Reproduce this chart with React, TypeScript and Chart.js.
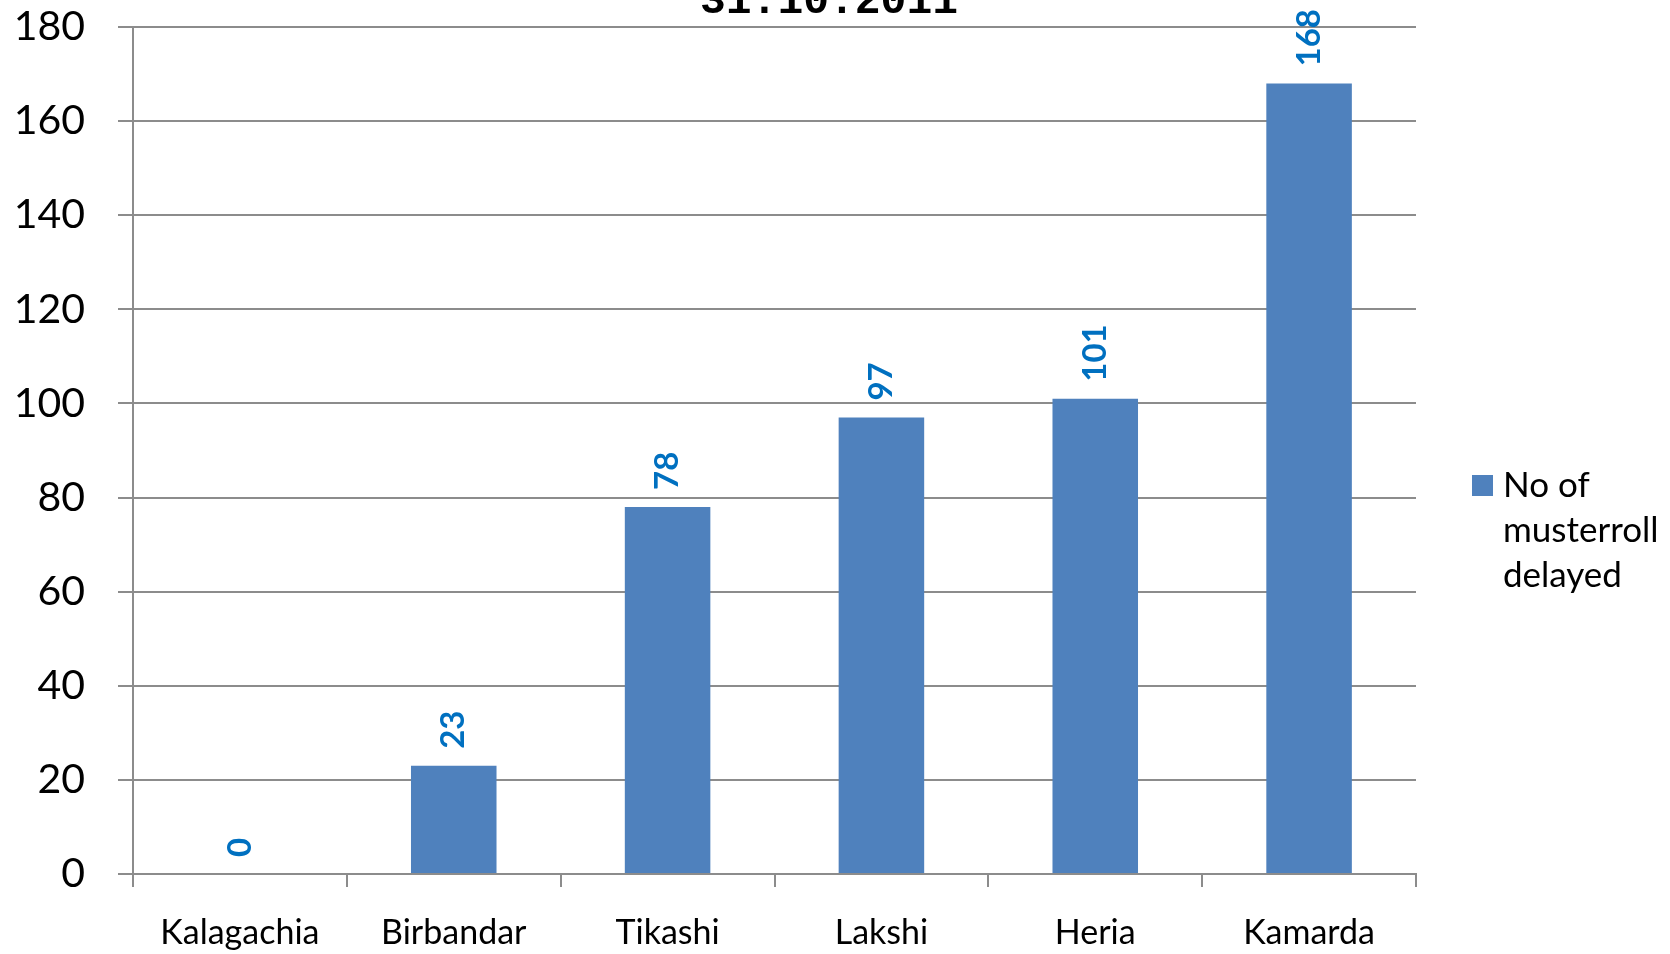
import React, { useEffect, useRef } from "react";
import { Chart, registerables } from "chart.js";

Chart.register(...registerables);

const categories = ["Kalagachia", "Birbandar", "Tikashi", "Lakshi", "Heria", "Kamarda"];
const delayed = [0, 23, 78, 97, 101, 168];
const seriesLabel = "No of musterroll delayed";
const legendLines = ["No of", "musterroll", "delayed"];
const titleText = "31.10.2011";

const FONT = "Lato, 'Open Sans', sans-serif";

const overlayPlugin = {
  id: "overlay",
  afterDatasetsDraw(chart: any) {
    const ctx = chart.ctx;
    const meta = chart.getDatasetMeta(0);
    ctx.save();
    // data labels
    ctx.font = `bold 33px ${FONT}`;
    ctx.fillStyle = "#0070C0";
    ctx.textAlign = "left";
    ctx.textBaseline = "middle";
    meta.data.forEach((bar: any, i: number) => {
      const v = chart.data.datasets[0].data[i];
      ctx.save();
      ctx.translate(bar.x, bar.y - 17);
      ctx.rotate(-Math.PI / 2);
      ctx.fillText(String(v), 0, 0);
      ctx.restore();
    });
    // title (clipped at top)
    ctx.font = `bold 43px 'Liberation Mono', monospace`;
    ctx.fillStyle = "#000";
    ctx.textAlign = "center";
    ctx.textBaseline = "alphabetic";
    ctx.fillText(titleText, 829, 13);
    // legend
    ctx.fillStyle = chart.data.datasets[0].backgroundColor;
    ctx.fillRect(1472, 475, 21, 21);
    ctx.fillStyle = "#000";
    ctx.font = `35px ${FONT}`;
    ctx.textAlign = "left";
    legendLines.forEach((t, i) => ctx.fillText(t, 1503, 497 + i * 45));
    ctx.restore();
  },
};

export default function App() {
  const ref = useRef<HTMLCanvasElement>(null);
  useEffect(() => {
    if (!ref.current) return;
    const chart = new Chart(ref.current, {
      type: "bar",
      data: {
        labels: categories,
        datasets: [
          {
            label: seriesLabel,
            data: delayed,
            backgroundColor: "#4F81BD",
            categoryPercentage: 1,
            barPercentage: 0.4,
          },
        ],
      },
      options: {
        animation: false,
        responsive: false,
        layout: { padding: { top: 27, right: 254, left: 0, bottom: 0 } },
        plugins: { legend: { display: false }, title: { display: false }, tooltip: { enabled: false } },
        scales: {
          x: {
            offset: true,
            grid: {
              offset: true,
              drawOnChartArea: false,
              drawTicks: true,
              tickLength: 13,
              color: "#8c8c8c",
              lineWidth: 2,
            },
            border: { color: "#8c8c8c", width: 2 },
            ticks: { color: "#000", font: { family: FONT, size: 34 }, padding: 26, maxRotation: 0 },
            afterFit(scale: any) {
              scale.height = 80;
              scale.paddingLeft = 0;
              scale.paddingRight = 0;
            },
          },
          y: {
            min: 0,
            max: 180,
            ticks: { stepSize: 20, color: "#000", font: { family: FONT, size: 41 }, padding: 33 },
            grid: { color: "#8c8c8c", lineWidth: 2, tickLength: 15 },
            border: { color: "#8c8c8c", width: 2 },
            afterFit(scale: any) {
              scale.width = 133;
              scale.paddingTop = 0;
              scale.paddingBottom = 0;
            },
          },
        },
      },
      plugins: [overlayPlugin],
    });
    return () => chart.destroy();
  }, []);
  return (
    <div style={{ position: "absolute", left: 0, top: 0, width: 1670, height: 954, background: "#fff" }}>
      <canvas ref={ref} width={1670} height={954} style={{ width: 1670, height: 954 }} />
    </div>
  );
}
